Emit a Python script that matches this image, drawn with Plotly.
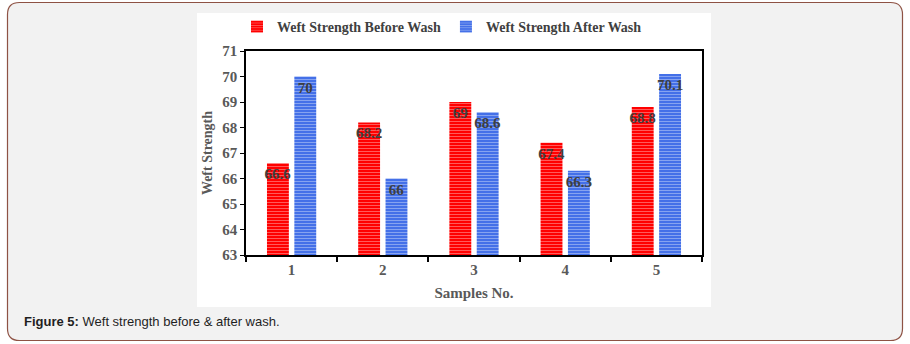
import plotly.graph_objects as go

# ---- data ----
samples = ["1", "2", "3", "4", "5"]
before_wash = [66.6, 68.2, 69.0, 67.4, 68.8]
after_wash = [70.0, 66.0, 68.6, 66.3, 70.1]
before_labels = ["66.6", "68.2", "69", "67.4", "68.8"]
after_labels = ["70", "66", "68.6", "66.3", "70.1"]
y_ticks = [63, 64, 65, 66, 67, 68, 69, 70, 71]

W, H = 910, 344
PL, PR, PT, PB = 246, 702, 51, 255  # plot area in pixels


def px(x):
    return (x - PL) / (PR - PL)


def py(y):
    return (PB - y) / (PB - PT)


SERIF = "Liberation Serif, Times New Roman, serif"
SANS = "Liberation Sans, Arial, sans-serif"

fig = go.Figure()
fig.add_trace(go.Bar(
    x=samples, y=before_wash, name="Weft Strength Before Wash",
    text=before_labels, textposition="inside", insidetextanchor="end",
    textangle=0, constraintext="none", cliponaxis=False,
    textfont=dict(family=SERIF, size=15, color="#3f3f3f", weight="bold"),
    marker=dict(color="#ff1a1a", line=dict(width=0),
                pattern=dict(shape="-", bgcolor="#ff0000", fgcolor="#ffb4b4",
                             size=3, solidity=0.35, fillmode="overlay")),
))
fig.add_trace(go.Bar(
    x=samples, y=after_wash, name="Weft Strength After Wash",
    text=after_labels, textposition="inside", insidetextanchor="end",
    textangle=0, constraintext="none", cliponaxis=False,
    textfont=dict(family=SERIF, size=15, color="#3f3f3f", weight="bold"),
    marker=dict(color="#4a74e6", line=dict(width=0),
                pattern=dict(shape="-", bgcolor="#4470e8", fgcolor="#c8d5f7",
                             size=3, solidity=0.35, fillmode="overlay")),
))

# rounded outer frame
x0, x1, y0, y1, r = 7.5, 902.5, 2.5, 340.5, 12
path = (
    f"M {px(x0 + r)},{py(y0)} L {px(x1 - r)},{py(y0)} "
    f"Q {px(x1)},{py(y0)} {px(x1)},{py(y0 + r)} "
    f"L {px(x1)},{py(y1 - r)} Q {px(x1)},{py(y1)} {px(x1 - r)},{py(y1)} "
    f"L {px(x0 + r)},{py(y1)} Q {px(x0)},{py(y1)} {px(x0)},{py(y1 - r)} "
    f"L {px(x0)},{py(y0 + r)} Q {px(x0)},{py(y0)} {px(x0 + r)},{py(y0)} Z"
)
shapes = [
    dict(type="path", xref="paper", yref="paper", path=path,
         fillcolor="#f2f2f2", line=dict(color="#8e5244", width=1.2), layer="below"),
    dict(type="rect", xref="paper", yref="paper",
         x0=px(197), x1=px(711), y0=py(13), y1=py(307),
         fillcolor="#ffffff", line=dict(width=0), layer="below"),
]

annotations = [
    dict(xref="paper", yref="paper", x=px(22), y=py(321), xanchor="left",
         yanchor="middle", showarrow=False,
         text="<b>Figure 5:</b> Weft strength before & after wash.",
         font=dict(family=SANS, size=13, color="#1f1f1f")),
]

fig.update_layout(
    width=W, height=H,
    margin=dict(l=PL, r=W - PR, t=PT, b=H - PB, pad=0, autoexpand=False),
    paper_bgcolor="#ffffff", plot_bgcolor="#ffffff",
    barmode="group", bargap=0.4, bargroupgap=0.2,
    shapes=shapes, annotations=annotations,
    legend=dict(orientation="h", xref="container", yref="container",
                x=442 / W, y=1 - 27 / H, xanchor="center",
                yanchor="middle", bgcolor="rgba(0,0,0,0)",
                font=dict(family=SERIF, size=14, color="#404040", weight="bold"),
                itemwidth=30, tracegroupgap=0),
    xaxis=dict(
        type="category", tickson="boundaries", ticks="outside", ticklen=5,
        tickcolor="#000000", tickwidth=1.5,
        showline=True, linecolor="#000000", linewidth=2, mirror=True,
        showgrid=False,
        tickfont=dict(family=SERIF, size=15, color="#595959", weight="bold"),
        title=dict(text="Samples No.", standoff=10,
                   font=dict(family=SERIF, size=15, color="#595959", weight="bold")),
    ),
    yaxis=dict(
        range=[63, 71], tickvals=y_ticks, ticks="outside", ticklen=4,
        tickcolor="#000000", showline=True, linecolor="#000000", linewidth=1.5,
        mirror=True, showgrid=False, zeroline=False,
        tickfont=dict(family=SERIF, size=15, color="#595959", weight="bold"),
        title=dict(text="Weft Strength", standoff=6,
                   font=dict(family=SERIF, size=14, color="#595959", weight="bold")),
    ),
)

fig.write_html("out.html")
